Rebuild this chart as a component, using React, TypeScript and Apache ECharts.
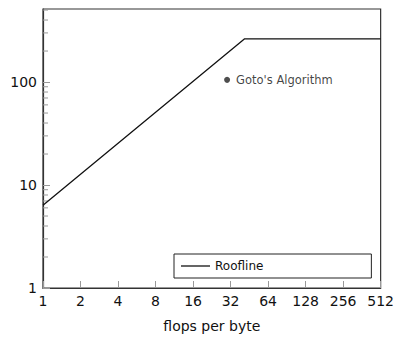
import React, { useEffect, useRef } from "react";
import * as echarts from "echarts";

const xTicks = [1, 2, 4, 8, 16, 32, 64, 128, 256, 512];
const yTicks = [1, 10, 100];
const yMinorTicks = [2, 3, 4, 5, 6, 7, 8, 9, 20, 30, 40, 50, 60, 70, 80, 90, 200, 300, 400, 500];
const rooflineX = [1, 41.5, 512];
const rooflineY = [6.35, 263, 263];
const gotoPoint = [30, 105];
const gotoLabel = "Goto's Algorithm";
const FONT = "DejaVu Sans";

export default function App() {
  const ref = useRef<HTMLDivElement>(null);
  useEffect(() => {
    if (!ref.current) return;
    const chart = echarts.init(ref.current, null, { renderer: "svg" });
    chart.setOption({
      animation: false,
      textStyle: { fontFamily: FONT },
      grid: {
        left: 43,
        top: 9,
        right: 16,
        bottom: 49,
        show: true,
        borderColor: "#333",
        borderWidth: 1.2,
      },
      legend: {
        data: ["Roofline"],
        left: 174,
        top: 254,
        padding: [6, 108, 6, 7],
        borderColor: "#222",
        borderWidth: 1,
        icon: "rect",
        itemWidth: 29,
        itemHeight: 1.3,
        itemGap: 4,
        textStyle: { fontFamily: FONT, fontSize: 12, color: "#111" },
      },
      xAxis: {
        type: "log",
        logBase: 2,
        min: 1,
        max: 512,
        interval: 1,
        axisLine: { show: true, lineStyle: { color: "#333", width: 1.2 } },
        axisTick: { show: true, inside: true, length: 7, lineStyle: { color: "#999" } },
        splitLine: { show: false },
        axisLabel: {
          margin: 6,
          fontSize: 14,
          color: "#111",
          fontFamily: FONT,
          formatter: (v: number) => {
            const r = Math.round(v);
            return xTicks.includes(r) ? String(r) : "";
          },
        },
        name: "flops per byte",
        nameLocation: "middle",
        nameGap: 31,
        nameTextStyle: { fontSize: 14, color: "#111", fontFamily: FONT },
      },
      yAxis: {
        type: "log",
        logBase: 10,
        min: 1,
        max: 512,
        interval: 1,
        axisLine: { show: true, lineStyle: { color: "#333", width: 1.2 } },
        axisTick: { show: true, inside: true, length: 7, lineStyle: { color: "#999" } },
        splitLine: { show: false },
        axisLabel: {
          margin: 6,
          fontSize: 14,
          color: "#111",
          fontFamily: FONT,
          showMaxLabel: false,
          formatter: (v: number) => {
            const r = Math.round(v);
            return yTicks.includes(r) ? String(r) : "";
          },
        },
      },
      series: [
        {
          name: "Roofline",
          type: "line",
          data: rooflineX.map((x, i) => [x, rooflineY[i]]),
          showSymbol: false,
          symbol: "none",
          lineStyle: { color: "#111", width: 1.3 },
          itemStyle: { color: "#111" },
          z: 3,
        },
        {
          name: gotoLabel,
          type: "scatter",
          data: [gotoPoint],
          symbol: "circle",
          symbolSize: 6,
          itemStyle: { color: "#222" },
          label: {
            show: true,
            position: "right",
            distance: 6,
            formatter: gotoLabel,
            fontSize: 11.5,
            color: "#111",
            fontFamily: FONT,
          },
        },
        {
          name: "minorTicks",
          type: "custom",
          data: yMinorTicks.map((v) => [1, v]),
          clip: false,
          silent: true,
          renderItem: (params: any, api: any) => {
            const p = api.coord([api.value(0), api.value(1)]);
            return {
              type: "line",
              shape: { x1: p[0], y1: p[1], x2: p[0] + 5, y2: p[1] },
              style: { stroke: "#999", lineWidth: 1 },
            };
          },
        },
      ],
    });
    return () => chart.dispose();
  }, []);
  return <div ref={ref} style={{ position: "absolute", left: 0, top: 0, width: 397, height: 338 }} />;
}
